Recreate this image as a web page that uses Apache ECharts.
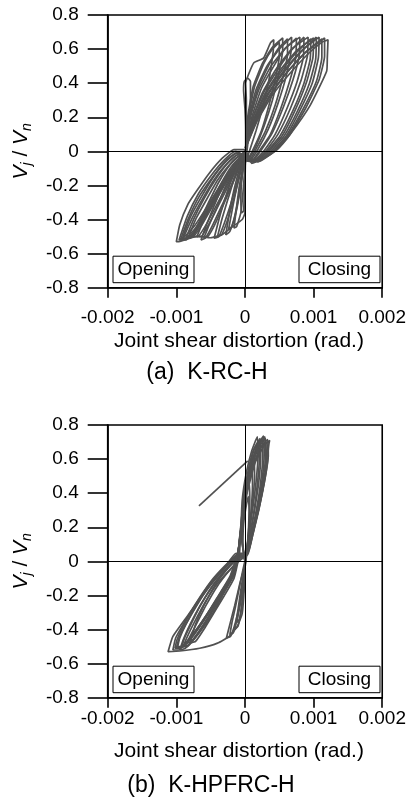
<!DOCTYPE html>
<html>
<head>
<meta charset="utf-8">
<script src="https://cdn.jsdelivr.net/npm/echarts@6/dist/echarts.min.js"></script>
<style>
  html, body { margin: 0; padding: 0; background: #ffffff; }
  #chart { width: 409px; height: 802px; }
</style>
</head>
<body>
<div id="chart"></div>
<script>
// Axis ranges and tick labels (joint shear distortion in rad, normalised joint shear)
const xMin = -0.002, xMax = 0.002, xStep = 0.001;
const yMin = -0.8, yMax = 0.8, yStep = 0.2;
const xTickLabels = ['-0.002', '-0.001', '0', '0.001', '0.002'];
const yTickLabels = ['-0.8', '-0.6', '-0.4', '-0.2', '0', '0.2', '0.4', '0.6', '0.8'];
const xAxisTitle = 'Joint shear distortion (rad.)';
const panelCaptions = ['(a)  K-RC-H', '(b)  K-HPFRC-H'];
const boxLabels = ['Opening', 'Closing'];

// Specimen K-RC-H : recorded hysteresis cycles [distortion, Vj/Vn]
const rcLoop1 = [[0.00001,0.0],[0.00001,0.12],[0,0.25],[-0.00002,0.36],[-0.00001,0.41],[0.00004,0.43],[0.00008,0.41],[0.00008,0.3],[0.00006,0.15],[0.00004,0.04],[0.00002,-0.02],[-0.00002,-0.08],[-0.00005,-0.18],[-0.00006,-0.28],[-0.00005,-0.36],[-0.00002,-0.35],[-0.00001,-0.25],[0,-0.12],[0.00001,0.0]];
const rcLoop2 = [[0.00001,0.0],[0.00002,0.15],[0.00002,0.3],[0.00001,0.4],[0.00006,0.46],[0.00013,0.52],[0.00027,0.547],[0.00037,0.635],[0.00042,0.655],[0.00041,0.58],[0.00035,0.42],[0.00026,0.26],[0.00016,0.12],[0.00008,0.02],[0.00003,-0.04],[-0.00003,-0.1],[-0.00008,-0.2],[-0.00012,-0.32],[-0.00016,-0.45],[-0.00012,-0.44],[-0.00006,-0.36],[-0.00002,-0.2],[0,-0.08],[0.00001,0.0]];
const rcLoop3 = [[0.00001,0.02],[0.00004,0.2],[0.00012,0.38],[0.00026,0.52],[0.0004,0.61],[0.00055,0.665],[0.00055,0.6],[0.00049,0.45],[0.0004,0.3],[0.00028,0.15],[0.00016,0.03],[0.00006,-0.04],[-0.00004,-0.06],[-0.00012,-0.16],[-0.0002,-0.3],[-0.00028,-0.49],[-0.00022,-0.47],[-0.00015,-0.38],[-0.00008,-0.24],[-0.00003,-0.1],[0.00001,0.01]];
const rcLoop3b = [[0.00001,0.02],[0.00005,0.2],[0.00014,0.38],[0.00028,0.52],[0.0004,0.6],[0.0005,0.64],[0.0005,0.56],[0.00044,0.42],[0.00035,0.27],[0.00024,0.12],[0.00013,0.02],[0.00005,-0.04],[-0.00004,-0.07],[-0.0001,-0.17],[-0.00017,-0.31],[-0.00024,-0.46],[-0.00019,-0.44],[-0.00012,-0.34],[-0.00006,-0.2],[-0.00002,-0.08],[0.00001,0.01]];
const rcLoop4 = [[0.00001,0.02],[0.00006,0.2],[0.00016,0.36],[0.00032,0.5],[0.0005,0.6],[0.00068,0.67],[0.00067,0.58],[0.0006,0.44],[0.00048,0.28],[0.00034,0.13],[0.0002,0.02],[0.00008,-0.05],[-0.00005,-0.05],[-0.00015,-0.12],[-0.00026,-0.24],[-0.00036,-0.37],[-0.00045,-0.51],[-0.00038,-0.5],[-0.0003,-0.42],[-0.0002,-0.3],[-0.0001,-0.16],[-0.00003,-0.05],[0.00001,0.01]];
const rcLoop4b = [[0.00001,0.02],[0.00007,0.2],[0.00019,0.37],[0.00034,0.5],[0.00048,0.6],[0.00062,0.66],[0.00062,0.57],[0.00055,0.43],[0.00044,0.27],[0.0003,0.12],[0.00017,0.02],[0.00007,-0.05],[-0.00005,-0.06],[-0.00014,-0.14],[-0.00024,-0.27],[-0.00033,-0.39],[-0.0004,-0.5],[-0.00034,-0.49],[-0.00026,-0.41],[-0.00017,-0.29],[-0.00008,-0.15],[-0.00002,-0.05],[0.00001,0.01]];
const rcLoop5 = [[0.00001,0.02],[0.00008,0.2],[0.0002,0.36],[0.00038,0.5],[0.0006,0.61],[0.0008,0.67],[0.00079,0.56],[0.0007,0.42],[0.00056,0.26],[0.0004,0.11],[0.00024,0.01],[0.0001,-0.06],[-0.00006,-0.04],[-0.00018,-0.1],[-0.00032,-0.2],[-0.00045,-0.32],[-0.00056,-0.43],[-0.00064,-0.52],[-0.00058,-0.51],[-0.00048,-0.44],[-0.00034,-0.32],[-0.0002,-0.2],[-0.00008,-0.08],[0.00001,0.01]];
const rcLoop5b = [[0.00001,0.02],[0.0001,0.2],[0.00024,0.37],[0.00042,0.5],[0.00058,0.6],[0.00075,0.665],[0.00074,0.55],[0.00065,0.41],[0.00052,0.25],[0.00037,0.1],[0.00022,0.01],[0.00009,-0.06],[-0.00006,-0.05],[-0.00017,-0.12],[-0.0003,-0.22],[-0.00042,-0.34],[-0.00052,-0.43],[-0.0006,-0.51],[-0.00054,-0.5],[-0.00044,-0.43],[-0.00031,-0.31],[-0.00018,-0.19],[-0.00007,-0.08],[0.00001,0.01]];
const rcLoop6 = [[0.00001,0.02],[0.0001,0.18],[0.00025,0.34],[0.00045,0.48],[0.00068,0.6],[0.00092,0.67],[0.00091,0.56],[0.00082,0.42],[0.00066,0.25],[0.00048,0.1],[0.0003,0.0],[0.00012,-0.06],[-0.00008,-0.03],[-0.00022,-0.08],[-0.00038,-0.18],[-0.00053,-0.3],[-0.00066,-0.41],[-0.00076,-0.5],[-0.00069,-0.5],[-0.00058,-0.44],[-0.00042,-0.32],[-0.00026,-0.2],[-0.0001,-0.08],[0.00001,0.01]];
const rcLoop6b = [[0.00001,0.02],[0.00012,0.2],[0.00028,0.35],[0.00048,0.48],[0.00067,0.59],[0.00086,0.67],[0.00085,0.55],[0.00076,0.41],[0.00061,0.25],[0.00044,0.1],[0.00027,0.0],[0.00011,-0.06],[-0.00007,-0.04],[-0.0002,-0.09],[-0.00035,-0.19],[-0.0005,-0.31],[-0.00062,-0.42],[-0.0007,-0.5],[-0.00064,-0.5],[-0.00053,-0.43],[-0.00039,-0.32],[-0.00024,-0.2],[-0.00009,-0.08],[0.00001,0.01]];
const rcLoop7 = [[0.00001,0.02],[0.00012,0.18],[0.00028,0.33],[0.0005,0.47],[0.00075,0.59],[0.001,0.665],[0.00099,0.55],[0.0009,0.41],[0.00073,0.24],[0.00054,0.09],[0.00034,0.0],[0.00014,-0.06],[-0.0001,-0.02],[-0.00025,-0.07],[-0.00042,-0.16],[-0.0006,-0.28],[-0.00075,-0.4],[-0.00086,-0.51],[-0.0008,-0.51],[-0.00068,-0.45],[-0.0005,-0.33],[-0.00032,-0.2],[-0.00014,-0.08],[0.00001,0.01]];
const rcLoop7b = [[0.00001,0.02],[0.00014,0.19],[0.00031,0.34],[0.00053,0.47],[0.00075,0.58],[0.00096,0.66],[0.00095,0.54],[0.00086,0.4],[0.0007,0.24],[0.00051,0.09],[0.00032,0.0],[0.00013,-0.06],[-0.00009,-0.03],[-0.00023,-0.08],[-0.0004,-0.17],[-0.00057,-0.29],[-0.00072,-0.4],[-0.00082,-0.5],[-0.00076,-0.5],[-0.00064,-0.44],[-0.00047,-0.32],[-0.0003,-0.2],[-0.00012,-0.08],[0.00001,0.01]];
const rcLoop8 = [[0.00001,0.02],[0.00014,0.18],[0.00032,0.33],[0.00056,0.47],[0.00082,0.59],[0.00108,0.67],[0.00107,0.55],[0.00098,0.4],[0.0008,0.24],[0.0006,0.09],[0.0004,0.0],[0.00018,-0.06],[-0.00012,-0.01],[-0.00028,-0.06],[-0.00046,-0.15],[-0.00064,-0.27],[-0.0008,-0.39],[-0.00092,-0.52],[-0.00086,-0.52],[-0.00072,-0.46],[-0.00054,-0.34],[-0.00034,-0.21],[-0.00014,-0.08],[0.00001,0.01]];
const rcLoop8b = [[0.00001,0.02],[0.00016,0.19],[0.00035,0.34],[0.00058,0.47],[0.00081,0.58],[0.00104,0.67],[0.00103,0.54],[0.00094,0.4],[0.00077,0.24],[0.00057,0.09],[0.00037,0.0],[0.00016,-0.06],[-0.00011,-0.02],[-0.00026,-0.07],[-0.00044,-0.16],[-0.00062,-0.28],[-0.00078,-0.4],[-0.0009,-0.51],[-0.00083,-0.51],[-0.0007,-0.45],[-0.00052,-0.33],[-0.00033,-0.2],[-0.00013,-0.08],[0.00001,0.01]];
const rcLoop9 = [[0.00001,0.02],[0.00016,0.18],[0.00036,0.33],[0.0006,0.46],[0.00088,0.58],[0.00116,0.665],[0.00116,0.56],[0.00108,0.42],[0.00088,0.25],[0.00064,0.09],[0.00043,0.0],[0.0002,-0.06],[-0.00014,0.0],[-0.0003,-0.05],[-0.00049,-0.14],[-0.00068,-0.25],[-0.00084,-0.38],[-0.00096,-0.52],[-0.00088,-0.5],[-0.00074,-0.44],[-0.00056,-0.33],[-0.00036,-0.2],[-0.00016,-0.08],[0.00001,0.01]];
const rcLoop9b = [[0.00001,0.02],[0.00018,0.19],[0.00039,0.34],[0.00063,0.47],[0.00088,0.58],[0.00112,0.66],[0.00112,0.55],[0.00104,0.41],[0.00085,0.25],[0.00062,0.09],[0.00041,0.0],[0.00019,-0.06],[-0.00013,-0.01],[-0.00029,-0.06],[-0.00047,-0.15],[-0.00066,-0.26],[-0.00082,-0.39],[-0.00094,-0.52],[-0.00086,-0.51],[-0.00072,-0.45],[-0.00054,-0.33],[-0.00034,-0.2],[-0.00015,-0.08],[0.00001,0.01]];
const rcLoop10 = [[0.00001,0.02],[0.00018,0.18],[0.0004,0.33],[0.00066,0.46],[0.00094,0.58],[0.00112,0.64],[0.00121,0.655],[0.0012,0.55],[0.00119,0.47],[0.00095,0.27],[0.00066,0.1],[0.00047,0.01],[0.00023,-0.05],[0.0001,-0.07],[0,0.01],[-0.00016,0.01],[-0.00033,-0.04],[-0.00052,-0.128],[-0.00071,-0.236],[-0.00083,-0.31],[-0.00095,-0.43],[-0.001,-0.53],[-0.00098,-0.53],[-0.00069,-0.497],[-0.0005,-0.507],[-0.00033,-0.488],[-0.00021,-0.45],[-0.00004,-0.4],[0,-0.36],[0,-0.2],[0.00001,0.0]];

// Specimen K-HPFRC-H : recorded hysteresis cycles [distortion, Vj/Vn]
const hpSpike = [[-0.00067,0.326],[0.00004,0.59]];
const hpLoop1 = [[0,0],[-0.00003,0.1],[-0.00002,0.22],[0.00002,0.33],[0.00005,0.38],[0.00006,0.3],[0.00005,0.18],[0.00003,0.06],[0,-0.04],[-0.00004,-0.14],[-0.00008,-0.26],[-0.00012,-0.36],[-0.00008,-0.34],[-0.00004,-0.24],[-0.00001,-0.12],[0,0]];
const hpLoop1b = [[0,0],[-0.00004,0.12],[-0.00003,0.25],[0.00001,0.38],[0.00006,0.46],[0.00007,0.36],[0.00006,0.22],[0.00003,0.08],[0,-0.03],[-0.00005,-0.14],[-0.0001,-0.28],[-0.00015,-0.4],[-0.0001,-0.38],[-0.00005,-0.27],[-0.00001,-0.12],[0,0]];
const hpLoop2 = [[0,0],[-0.00004,0.12],[-0.00003,0.28],[0.00001,0.42],[0.00006,0.51],[0.0001,0.56],[0.00011,0.45],[0.00009,0.3],[0.00005,0.15],[0.00002,0.03],[-0.00002,-0.05],[-0.00008,-0.14],[-0.00015,-0.26],[-0.00022,-0.37],[-0.00027,-0.45],[-0.00021,-0.44],[-0.00014,-0.36],[-0.00007,-0.24],[-0.00002,-0.1],[0,0]];
const hpLoop2b = [[0,0],[-0.00005,0.14],[-0.00003,0.3],[0.00002,0.45],[0.00008,0.56],[0.00013,0.62],[0.00014,0.5],[0.00011,0.34],[0.00006,0.17],[0.00002,0.04],[-0.00003,-0.05],[-0.00008,-0.15],[-0.00014,-0.27],[-0.00019,-0.36],[-0.00022,-0.43],[-0.00017,-0.42],[-0.00011,-0.33],[-0.00005,-0.21],[-0.00001,-0.09],[0,0]];
const hpLoop3 = [[-0.00008,0.04],[-0.00006,0.18],[-0.00004,0.36],[0.00002,0.52],[0.0001,0.65],[0.00018,0.73],[0.00019,0.62],[0.00016,0.46],[0.00011,0.3],[0.00005,0.14],[0.00001,0.04],[-0.00012,0.02],[-0.00025,-0.04],[-0.00042,-0.13],[-0.0006,-0.26],[-0.00072,-0.37],[-0.0008,-0.48],[-0.00072,-0.47],[-0.0006,-0.4],[-0.00045,-0.3],[-0.0003,-0.2],[-0.00016,-0.1],[-0.00008,0.04]];
const hpLoop4 = [[-0.0001,0.05],[-0.00006,0.2],[-0.00002,0.38],[0.00005,0.54],[0.00013,0.66],[0.00022,0.72],[0.00023,0.62],[0.0002,0.46],[0.00014,0.3],[0.00007,0.14],[0.00002,0.04],[-0.00006,0.01],[-0.00022,-0.05],[-0.0004,-0.13],[-0.00058,-0.24],[-0.00074,-0.36],[-0.00085,-0.45],[-0.0009,-0.5],[-0.00082,-0.49],[-0.00068,-0.42],[-0.0005,-0.31],[-0.00032,-0.19],[-0.00016,-0.08],[-0.0001,0.05]];
const hpLoop4b = [[-0.0001,0.05],[-0.00006,0.21],[-0.00001,0.39],[0.00006,0.54],[0.00013,0.65],[0.0002,0.7],[0.00021,0.6],[0.00018,0.45],[0.00013,0.29],[0.00006,0.13],[0.00001,0.03],[-0.00008,0.01],[-0.00024,-0.06],[-0.00041,-0.15],[-0.00057,-0.26],[-0.00071,-0.37],[-0.0008,-0.44],[-0.00085,-0.48],[-0.00077,-0.47],[-0.00063,-0.4],[-0.00046,-0.3],[-0.0003,-0.18],[-0.00015,-0.07],[-0.0001,0.05]];
const hpLoop5 = [[-0.0001,0.05],[-0.00005,0.2],[0,0.38],[0.00008,0.55],[0.00017,0.67],[0.00027,0.735],[0.00028,0.63],[0.00025,0.48],[0.00018,0.31],[0.0001,0.15],[0.00003,0.04],[-0.00008,0.02],[-0.00026,-0.04],[-0.00045,-0.13],[-0.00064,-0.25],[-0.0008,-0.37],[-0.0009,-0.46],[-0.00095,-0.52],[-0.00087,-0.51],[-0.00072,-0.44],[-0.00054,-0.33],[-0.00035,-0.2],[-0.00018,-0.08],[-0.0001,0.05]];
const hpLoop5b = [[-0.0001,0.05],[-0.00005,0.21],[0.00001,0.39],[0.00009,0.55],[0.00017,0.66],[0.00025,0.72],[0.00026,0.62],[0.00023,0.47],[0.00017,0.31],[0.00009,0.15],[0.00003,0.04],[-0.00009,0.02],[-0.00027,-0.05],[-0.00046,-0.14],[-0.00065,-0.26],[-0.0008,-0.38],[-0.00088,-0.45],[-0.00092,-0.5],[-0.00084,-0.5],[-0.0007,-0.43],[-0.00052,-0.32],[-0.00034,-0.2],[-0.00017,-0.08],[-0.0001,0.05]];
const hpLoop6 = [[-0.0001,0.05],[-0.00005,0.22],[0.00001,0.4],[0.0001,0.56],[0.0002,0.67],[0.0003,0.72],[0.00031,0.6],[0.00027,0.45],[0.0002,0.3],[0.00011,0.15],[0.00004,0.04],[-0.0001,0.03],[-0.00028,-0.03],[-0.00048,-0.12],[-0.00068,-0.24],[-0.00085,-0.36],[-0.00096,-0.45],[-0.001,-0.51],[-0.00092,-0.5],[-0.00076,-0.43],[-0.00057,-0.32],[-0.00037,-0.2],[-0.0002,-0.09],[-0.0001,0.05]];
const hpLoop6b = [[-0.0001,0.05],[-0.00004,0.22],[0.00002,0.4],[0.0001,0.56],[0.0002,0.68],[0.00029,0.73],[0.0003,0.62],[0.00026,0.47],[0.00019,0.31],[0.0001,0.15],[0.00003,0.04],[-0.0001,0.03],[-0.00029,-0.04],[-0.00049,-0.13],[-0.00069,-0.25],[-0.00086,-0.37],[-0.00095,-0.45],[-0.00098,-0.5],[-0.0009,-0.5],[-0.00074,-0.43],[-0.00055,-0.32],[-0.00036,-0.2],[-0.00019,-0.08],[-0.0001,0.05]];
const hpLoop7 = [[-0.0001,0.05],[-0.00005,0.22],[0.00002,0.4],[0.00012,0.56],[0.00023,0.67],[0.00033,0.715],[0.00034,0.62],[0.00029,0.48],[0.00021,0.32],[0.00011,0.16],[0.00004,0.05],[-0.00011,0.04],[-0.0003,-0.03],[-0.0005,-0.12],[-0.00072,-0.25],[-0.0009,-0.37],[-0.00101,-0.45],[-0.00105,-0.52],[-0.00097,-0.52],[-0.0008,-0.45],[-0.0006,-0.34],[-0.0004,-0.21],[-0.00022,-0.09],[-0.0001,0.05]];
const hpLoop7b = [[-0.0001,0.05],[-0.00005,0.21],[0.00002,0.39],[0.00011,0.55],[0.00022,0.66],[0.00032,0.7],[0.00033,0.6],[0.00028,0.46],[0.0002,0.31],[0.00011,0.15],[0.00004,0.05],[-0.00011,0.04],[-0.00031,-0.04],[-0.00051,-0.13],[-0.00073,-0.26],[-0.0009,-0.38],[-0.00099,-0.46],[-0.00102,-0.51],[-0.00094,-0.51],[-0.00078,-0.44],[-0.00058,-0.33],[-0.00038,-0.2],[-0.00021,-0.09],[-0.0001,0.05]];
const hpLoop8 = [[-0.0001,0.05],[-0.00004,0.2],[0.00003,0.4],[0.00015,0.58],[0.00028,0.68],[0.00036,0.71],[0.00035,0.69],[0.0003,0.52],[0.0002,0.32],[0.00008,0.145],[0.00003,0.047],[-0.00013,0.047],[-0.0003,-0.04],[-0.00052,-0.149],[-0.00081,-0.305],[-0.00105,-0.44],[-0.00112,-0.53],[-0.00095,-0.526],[-0.00066,-0.51],[-0.0004,-0.48],[-0.00023,-0.44],[-0.00011,-0.38],[-0.00004,-0.305],[-0.00001,-0.15],[0,0]];

const rcLoops = [rcLoop1, rcLoop2, rcLoop3, rcLoop3b, rcLoop4, rcLoop4b, rcLoop5, rcLoop5b, rcLoop6, rcLoop6b,
  rcLoop7, rcLoop7b, rcLoop8, rcLoop8b, rcLoop9, rcLoop9b, rcLoop10];
const hpLoops = [hpSpike, hpLoop1, hpLoop1b, hpLoop2, hpLoop2b, hpLoop3, hpLoop4, hpLoop4b, hpLoop5, hpLoop5b,
  hpLoop6, hpLoop6b, hpLoop7, hpLoop7b, hpLoop8];

const FONT = 'Liberation Sans, Arial, sans-serif';
const curveColor = '#515151';

const panels = [
  { top: 15, loops: rcLoops, labelMargin: 21 },
  { top: 425, loops: hpLoops, labelMargin: 12 }
];
const gridLeft = 107.7, gridWidth = 277.3, gridHeight = 272.7;

function xLabel(v) { return xTickLabels[Math.round((v - xMin) / xStep)]; }
function yLabel(v) { return yTickLabels[Math.round((v - yMin) / yStep)]; }

const grids = [], xAxes = [], yAxes = [], series = [], graphics = [];

panels.forEach((p, i) => {
  grids.push({ left: gridLeft, top: p.top, width: gridWidth, height: gridHeight,
    show: true, borderColor: '#000', borderWidth: 1.6, backgroundColor: 'transparent' });
  xAxes.push({ gridIndex: i, type: 'value', min: xMin, max: xMax, interval: xStep, position: 'bottom',
    axisLine: { onZero: false, lineStyle: { color: '#000', width: 1.6 } },
    axisTick: { inside: false, length: 10, lineStyle: { color: '#000', width: 1.6 } },
    axisLabel: { margin: p.labelMargin, color: '#000', fontSize: 19, fontFamily: FONT, formatter: xLabel },
    splitLine: { show: false } });
  yAxes.push({ gridIndex: i, type: 'value', min: yMin, max: yMax, interval: yStep, position: 'left',
    axisLine: { onZero: false, lineStyle: { color: '#000', width: 1.6 } },
    axisTick: { inside: false, length: 20, lineStyle: { color: '#000', width: 1.6 } },
    axisLabel: { margin: 29, color: '#000', fontSize: 19, fontFamily: FONT, formatter: yLabel },
    splitLine: { show: false } });

  p.loops.forEach((loop, k) => {
    const s = { type: 'line', xAxisIndex: i, yAxisIndex: i, data: loop, symbol: 'none', showSymbol: false,
      smooth: 0.15, silent: true, animation: false, z: 3,
      lineStyle: { color: curveColor, width: 1.7 } };
    if (k === 0) {
      // zero reference lines through the origin
      s.markLine = { silent: true, symbol: 'none', animation: false, label: { show: false },
        lineStyle: { color: '#000', width: 1, type: 'solid' },
        data: [{ xAxis: 0 }, { yAxis: 0 }] };
    }
    series.push(s);
  });

  const bottom = p.top + gridHeight;
  // y-axis title V_j / V_n
  graphics.push({ type: 'text', x: 21, y: p.top + gridHeight / 2, rotation: Math.PI / 2,
    style: { text: '{v|V}{s|j}{t| / }{v|V}{s|n}', align: 'center', verticalAlign: 'middle', fill: '#000',
      rich: {
        v: { fontFamily: FONT, fontSize: 21, fontStyle: 'italic', lineHeight: 26, fill: '#000' },
        s: { fontFamily: FONT, fontSize: 14, fontStyle: 'italic', lineHeight: 26, verticalAlign: 'bottom', fill: '#000' },
        t: { fontFamily: FONT, fontSize: 21, lineHeight: 26, fill: '#000' }
      } } });
  // x-axis title
  graphics.push({ type: 'text', x: 239, y: bottom + 54, style: { text: xAxisTitle, fontFamily: FONT, fontSize: 21,
    fill: '#000', align: 'center', verticalAlign: 'middle' } });
  // panel caption
  graphics.push({ type: 'text', x: i === 0 ? 207 : 211, y: bottom + (i === 0 ? 85 : 88), style: { text: panelCaptions[i],
    fontFamily: FONT, fontSize: 23, fill: '#000', align: 'center', verticalAlign: 'middle' } });
  // loading direction boxes
  [[113, boxLabels[0]], [299, boxLabels[1]]].forEach(([bx, txt]) => {
    graphics.push({ type: 'rect', shape: { x: bx, y: bottom - 31.5, width: 81, height: 26.5 },
      style: { fill: '#fff', stroke: '#000', lineWidth: 1 }, z: 10 });
    graphics.push({ type: 'text', x: bx + 40.5, y: bottom - 18, z: 11, style: { text: txt, fontFamily: FONT, fontSize: 19,
      fill: '#000', align: 'center', verticalAlign: 'middle' } });
  });
});

const chart = echarts.init(document.getElementById('chart'), null, { renderer: 'canvas' });
chart.setOption({
  animation: false,
  backgroundColor: '#fff',
  grid: grids,
  xAxis: xAxes,
  yAxis: yAxes,
  series: series,
  graphic: graphics
});
</script>
</body>
</html>
